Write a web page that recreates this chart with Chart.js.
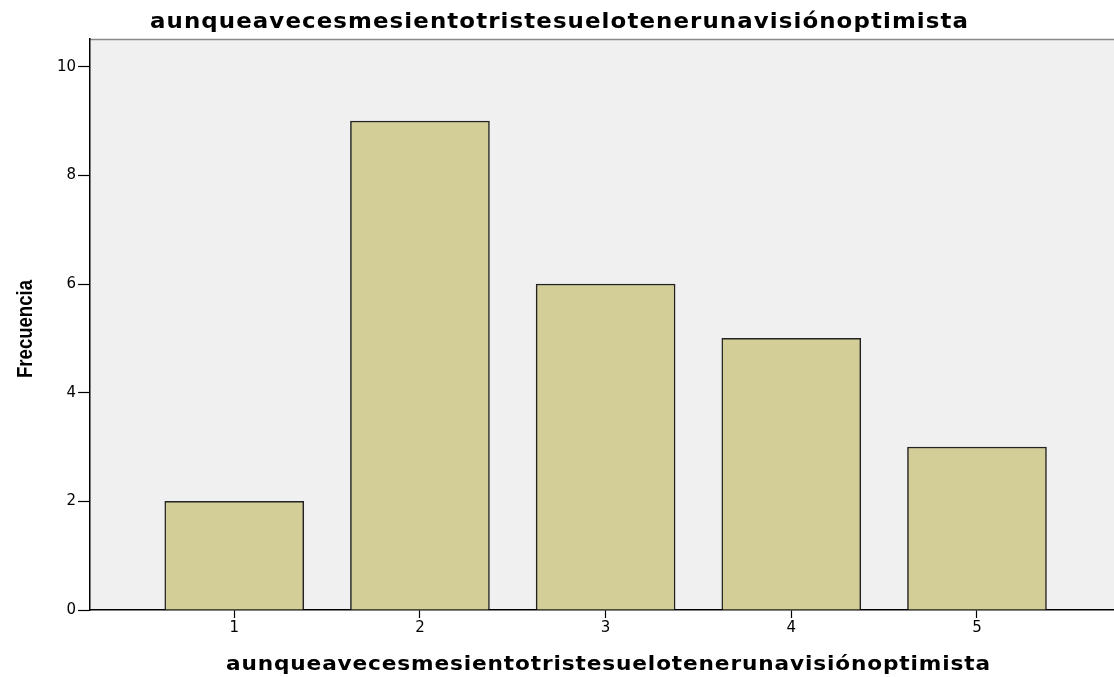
<!DOCTYPE html>
<html>
<head>
<meta charset="utf-8">
<script src="https://cdn.jsdelivr.net/npm/chart.js@4.4.0/dist/chart.umd.min.js"></script>
<style>
    html, body { margin: 0; padding: 0; background: #fff; }
    #wrap { width: 1114px; height: 677px; }
</style>
</head>
<body>
<div id="wrap"><canvas id="chart" width="1114" height="677"></canvas></div>
<script>
// Datos del gráfico de frecuencias
const categories = [1, 2, 3, 4, 5];
const frequencies = [2, 9, 6, 5, 3];
const yTicks = [0, 2, 4, 6, 8, 10];
const chartTitle = 'aunqueavecesmesientotristesuelotenerunavisiónoptimista';
const xTitle = 'aunqueavecesmesientotristesuelotenerunavisiónoptimista';
const yTitle = 'Frecuencia';

// texto ensanchado hasta un ancho dado, centrado en cx
function wideText(ctx, text, cx, y, font, spacing, targetWidth) {
    ctx.save();
    ctx.font = font;
    ctx.letterSpacing = spacing + 'px';
    const w = ctx.measureText(text).width - spacing;
    ctx.translate(cx, y);
    ctx.scale(targetWidth / w, 1);
    ctx.textAlign = 'left';
    ctx.textBaseline = 'alphabetic';
    ctx.fillText(text, -w / 2, 0);
    ctx.restore();
}

// fondo gris del área de trazado + borde superior
const plotBackground = {
    id: 'plotBackground',
    beforeDraw(chart) {
        const { ctx, chartArea: a } = chart;
        ctx.save();
        ctx.fillStyle = '#f0f0f0';
        ctx.fillRect(a.left, a.top, a.right - a.left, a.bottom - a.top);
        ctx.strokeStyle = '#8a8a8a';
        ctx.lineWidth = 1.5;
        ctx.beginPath();
        ctx.moveTo(a.left, a.top + 0.5);
        ctx.lineTo(a.right, a.top + 0.5);
        ctx.stroke();
        ctx.restore();
    }
};

// títulos al estilo SPSS
const titles = {
    id: 'titles',
    afterDraw(chart) {
        const { ctx } = chart;
        ctx.save();
        ctx.fillStyle = '#000';
        wideText(ctx, chartTitle, 559, 28, 'bold 21px "DejaVu Sans"', 1, 818);
        wideText(ctx, xTitle, 608, 670, 'bold 20px "DejaVu Sans"', 0.8, 764);

        // título vertical, fuente estrecha simulada
        ctx.font = 'bold 22px "Liberation Sans"';
        const w = ctx.measureText(yTitle).width;
        ctx.translate(32, 329);
        ctx.rotate(-Math.PI / 2);
        ctx.scale(98 / w, 1);
        ctx.textAlign = 'center';
        ctx.textBaseline = 'alphabetic';
        ctx.fillText(yTitle, 0, 0);
        ctx.restore();
    }
};

new Chart(document.getElementById('chart'), {
    type: 'bar',
    data: {
        datasets: [{
            data: categories.map((c, i) => ({ x: c, y: frequencies[i] })),
            backgroundColor: '#d3ce97',
            borderColor: '#222',
            borderWidth: 1.5,
            barThickness: 139
        }]
    },
    options: {
        responsive: false,
        animation: false,
        layout: { padding: { top: 39 } },
        plugins: {
            legend: { display: false },
            tooltip: { enabled: false },
            title: { display: false }
        },
        scales: {
            x: {
                type: 'linear',
                offset: false,
                min: 0.223,
                max: 5.738,
                afterFit(scale) { scale.height = 67; },
                afterBuildTicks(scale) { scale.ticks = categories.map(v => ({ value: v })); },
                grid: { offset: false, drawOnChartArea: false, drawTicks: true, tickLength: 8, color: '#000', tickWidth: 1.2 },
                border: { display: true, color: '#000', width: 1.5 },
                ticks: { color: '#000', font: { family: 'DejaVu Sans', size: 15 }, padding: 1 }
            },
            y: {
                min: 0,
                max: 10.51,
                afterFit(scale) { scale.width = 90; },
                afterBuildTicks(scale) { scale.ticks = yTicks.map(v => ({ value: v })); },
                grid: { drawOnChartArea: false, drawTicks: true, tickLength: 12, color: '#000', tickWidth: 1.2 },
                border: { display: true, color: '#000', width: 1.5 },
                ticks: { color: '#000', font: { family: 'DejaVu Sans', size: 15 }, padding: 2 }
            }
        }
    },
    plugins: [plotBackground, titles]
});
</script>
</body>
</html>
